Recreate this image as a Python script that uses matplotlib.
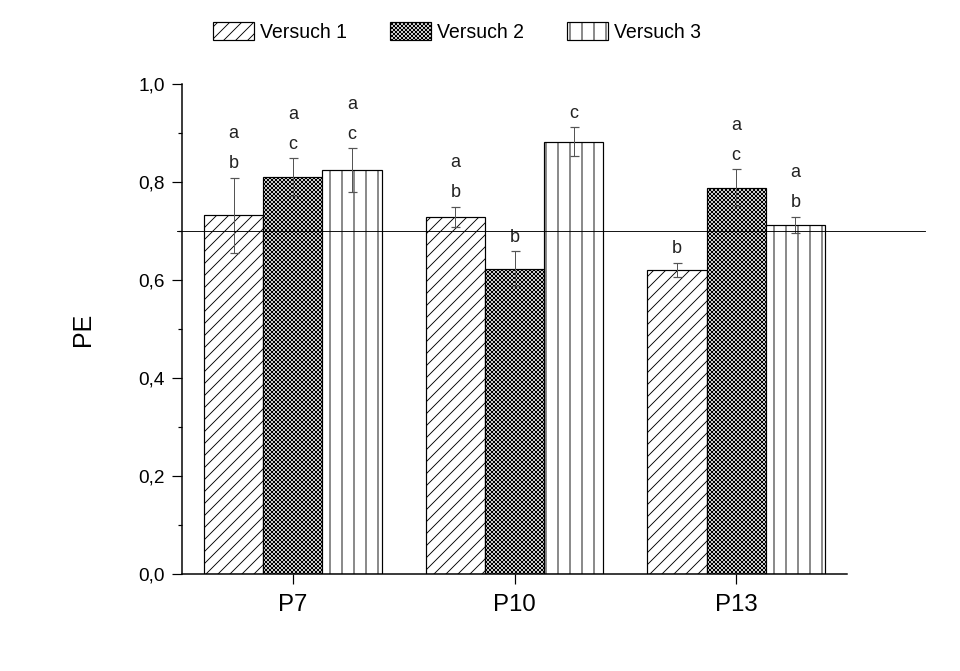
import matplotlib
matplotlib.use("Agg")
import matplotlib.pyplot as plt
import numpy as np

plt.rcParams['font.family'] = ['Liberation Sans', 'DejaVu Sans']
plt.rcParams['hatch.linewidth'] = 0.9
plt.rcParams['hatch.color'] = 'black'

categories = ["P7", "P10", "P13"]
series_names = ["Versuch 1", "Versuch 2", "Versuch 3"]
versuch1 = [0.732, 0.729, 0.621]
versuch2 = [0.810, 0.623, 0.789]
versuch3 = [0.824, 0.883, 0.713]
err1 = [0.077, 0.021, 0.014]
err2 = [0.039, 0.036, 0.037]
err3 = [0.045, 0.029, 0.016]
lower_letters1 = ["b", "b", "b"]
lower_letters2 = ["c", "b", "c"]
lower_letters3 = ["c", "c", "b"]
upper_letters1 = ["a", "a", ""]
upper_letters2 = ["a", "", "a"]
upper_letters3 = ["a", "", "a"]
threshold = 0.7
y_ticks = [0.0, 0.2, 0.4, 0.6, 0.8, 1.0]

values = [versuch1, versuch2, versuch3]
errors = [err1, err2, err3]
lowers = [lower_letters1, lower_letters2, lower_letters3]
uppers = [upper_letters1, upper_letters2, upper_letters3]
hatches = ["//", "xxxxxx", "|"]

DPI = 72
fig = plt.figure(figsize=(960 / DPI, 671 / DPI), dpi=DPI)
ax = fig.add_axes([0.1896, 0.1453, 0.6927, 0.7291])

x = np.arange(len(categories))
width = 0.267
handles = []
for i in range(3):
    pos = x + (i - 1) * width
    bars = ax.bar(pos, values[i], width, facecolor="white", edgecolor="black",
                  linewidth=1.2, hatch=hatches[i], zorder=2, label=series_names[i])
    handles.append(bars)
    ax.errorbar(pos, values[i], yerr=errors[i], fmt="none", ecolor="#555555",
                elinewidth=1.0, capsize=4.5, capthick=1.2, zorder=4)
    for j in range(len(categories)):
        top = values[i][j] + errors[i][j]
        ax.annotate(lowers[i][j], (pos[j], top), xytext=(0, 14),
                    textcoords="offset points", ha="center", va="center",
                    fontsize=18, color="#222222")
        if uppers[i][j]:
            ax.annotate(uppers[i][j], (pos[j], top), xytext=(0, 44),
                        textcoords="offset points", ha="center", va="center",
                        fontsize=18, color="#222222")

ax.axhline(threshold, xmin=-0.0075, xmax=1.117, color="black", linewidth=0.9,
           clip_on=False, zorder=5)

ax.set_xlim(-0.5, 2.5)
ax.set_ylim(0, 1.0)
ax.set_xticks(x)
ax.set_xticklabels(categories, fontsize=24)
ax.set_yticks(y_ticks)
ax.set_yticklabels([f"{v:.1f}".replace(".", ",") for v in y_ticks], fontsize=19)
ax.set_yticks(np.arange(0.1, 1.0, 0.2), minor=True)
ax.tick_params(axis="y", which="major", direction="out", length=10, width=1.2, pad=7)
ax.tick_params(axis="y", which="minor", direction="out", length=4, width=1.2)
ax.tick_params(axis="x", which="major", direction="out", length=10, width=1.2, pad=10)
ax.set_ylabel("PE", fontsize=25)
ax.yaxis.set_label_coords((83 - 182) / 665, 0.5)
ax.yaxis.label.set_va("center")

for side in ["top", "right"]:
    ax.spines[side].set_visible(False)
for side in ["left", "bottom"]:
    ax.spines[side].set_linewidth(1.5)

fig.legend(handles=handles, loc="center", bbox_to_anchor=(457 / 960, 1 - 32 / 671),
           ncol=3, frameon=False, fontsize=19.5, handlelength=2.1, handleheight=1.05,
           handletextpad=0.3, columnspacing=2.2)

fig.savefig("out.png", dpi=DPI, facecolor="white")
